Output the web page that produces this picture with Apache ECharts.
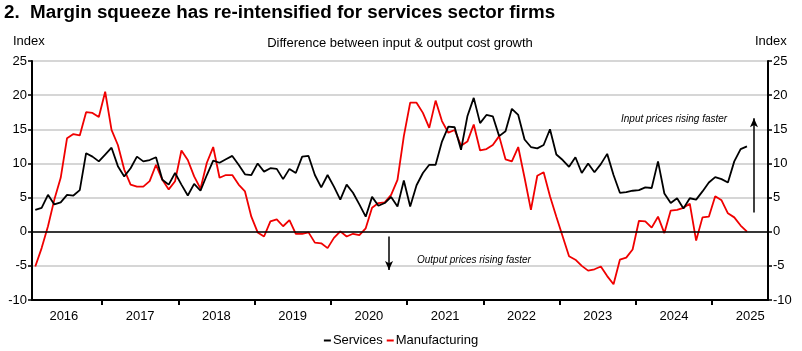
<!DOCTYPE html>
<html>
<head>
<meta charset="utf-8">
<script src="https://cdn.jsdelivr.net/npm/echarts@6/dist/echarts.min.js"></script>
<style>
  html, body { margin: 0; padding: 0; background: #fff; }
  #main { width: 802px; height: 351px; }
</style>
</head>
<body>
<div id="main"></div>
<script>
// monthly readings, Feb 2016 .. Jun 2025
const startYear = 2016;
const startMonth = 1; // 0 = Jan
const services = [
  3.2, 3.5, 5.4, 4.0, 4.3, 5.4, 5.3, 6.1, 11.5, 11.0, 10.3,
  11.3, 12.3, 9.6, 8.1, 9.3, 11.0, 10.3, 10.5, 10.9, 7.6, 6.9, 8.6,
  6.9, 5.3, 7.0, 6.0, 8.3, 10.4, 10.1, 10.6, 11.1, 9.8, 8.4, 8.3,
  10.0, 8.8, 9.3, 9.2, 7.7, 9.2, 8.6, 11.0, 11.1, 8.3, 6.5, 8.3,
  6.6, 4.7, 6.9, 5.7, 4.0, 2.2, 5.1, 3.8, 4.2, 5.1, 3.7, 7.5,
  3.7, 6.8, 8.6, 9.8, 9.8, 13.2, 15.4, 15.3, 12.0, 16.9, 19.6, 15.9,
  17.1, 16.9, 14.0, 14.7, 18.0, 17.1, 13.5, 12.4, 12.2, 12.7, 15.0, 11.3,
  10.5, 9.5, 10.9, 8.6, 10.0, 8.7, 9.9, 11.4, 8.3, 5.7, 5.8, 6.0,
  6.1, 6.5, 6.4, 10.3, 5.6, 4.2, 4.9, 3.4, 4.9, 4.7, 5.9, 7.2,
  8.0, 7.7, 7.2, 10.3, 12.1, 12.5
];
const manufacturing = [
  -5.1, -2.4, 0.8, 4.7, 7.9, 13.7, 14.3, 14.1, 17.5, 17.4, 16.8,
  20.5, 14.9, 12.7, 9.1, 6.9, 6.6, 6.6, 7.4, 9.8, 7.6, 6.2, 7.4,
  11.9, 10.5, 8.1, 6.3, 10.1, 12.4, 7.9, 8.3, 8.3, 6.9, 5.9, 2.2,
  -0.1, -0.7, 1.5, 1.8, 0.8, 1.7, -0.3, -0.3, -0.1, -1.6, -1.7, -2.4,
  -0.9, 0.05, -0.7, -0.3, -0.5, 0.5, 3.5, 4.2, 4.3, 5.4, 7.6, 14.0,
  18.9, 18.9, 17.4, 15.2, 19.2, 16.2, 14.5, 14.9, 12.6, 13.2, 15.7, 11.9,
  12.1, 12.7, 14.0, 10.6, 10.3, 12.4, 7.9, 3.2, 8.2, 8.7, 5.2, 2.2,
  -0.7, -3.6, -4.1, -5.0, -5.7, -5.5, -5.1, -6.5, -7.7, -4.1, -3.8, -2.6,
  1.6, 1.5, 0.6, 2.2, -0.2, 3.1, 3.2, 3.5, 4.1, -1.3, 2.1, 2.2,
  5.2, 4.6, 2.7, 2.1, 0.9, 0.0
];
const years = [2016, 2017, 2018, 2019, 2020, 2021, 2022, 2023, 2024, 2025];
const yTicks = { min: -10, max: 25, step: 5 };

// x as decimal year, point at mid-month
const toX = i => startYear + (startMonth + i + 0.5) / 12;
const servicesData = services.map((v, i) => [toX(i), v]);
const manufacturingData = manufacturing.map((v, i) => [toX(i), v]);

const font = 'Liberation Sans, Arial, sans-serif';
const chart = echarts.init(document.getElementById('main'));

const yAxisBase = {
  type: 'value',
  min: yTicks.min,
  max: yTicks.max,
  interval: yTicks.step,
  axisLine: { show: true, lineStyle: { color: '#000', width: 2 } },
  axisTick: { show: true, length: 4, lineStyle: { color: '#000', width: 1.5 } },
  axisLabel: { color: '#000', fontSize: 13, fontFamily: font, margin: 5 }
};

chart.setOption({
  animation: false,
  backgroundColor: '#fff',
  grid: { left: 32, right: 34, top: 61, bottom: 51 },
  xAxis: {
    type: 'value',
    min: 2016.082,
    max: 2025.734,
    splitLine: { show: false },
    axisLine: { show: true, onZero: false, lineStyle: { color: '#000', width: 2 } },
    axisTick: {
      show: true, length: 5, customValues: years.slice(1),
      lineStyle: { color: '#000', width: 2 }
    },
    axisLabel: {
      color: '#000', fontSize: 13, fontFamily: font, margin: 10,
      customValues: years.map(y => y + 0.5),
      formatter: v => String(Math.floor(v))
    }
  },
  yAxis: [
    Object.assign({}, yAxisBase, {
      position: 'left',
      splitLine: { show: true, lineStyle: { color: '#c8c8c8', width: 1.5 } }
    }),
    Object.assign({}, yAxisBase, {
      position: 'right',
      splitLine: { show: false }
    })
  ],
  legend: {
    bottom: 4,
    left: 'center',
    icon: 'rect',
    itemWidth: 7,
    itemHeight: 2,
    itemGap: 4,
    padding: 0,
    textStyle: { color: '#000', fontSize: 13, fontFamily: font, padding: [0, 0, 0, -3] },
    data: ['Services', 'Manufacturing']
  },
  series: [
    {
      name: 'Services',
      type: 'line',
      data: servicesData,
      showSymbol: false,
      z: 3,
      lineStyle: { color: '#000', width: 1.8 },
      itemStyle: { color: '#000' },
      markLine: {
        silent: true,
        symbol: 'none',
        label: { show: false },
        lineStyle: { color: '#000', width: 1.5, type: 'solid' },
        data: [{ yAxis: 0 }]
      }
    },
    {
      name: 'Manufacturing',
      type: 'line',
      data: manufacturingData,
      showSymbol: false,
      z: 2,
      lineStyle: { color: '#f00000', width: 1.8 },
      itemStyle: { color: '#f00000' },
      markLine: {
        silent: true,
        symbol: ['none', 'arrow'],
        symbolSize: [6, 9],
        label: { show: false },
        lineStyle: { color: '#000', width: 1.5, type: 'solid' },
        data: [
          [{ coord: [2025.55, 2.8] }, { coord: [2025.55, 16.6] }],
          [{ coord: [2020.764, -0.7] }, { coord: [2020.764, -5.6] }]
        ]
      }
    }
  ],
  graphic: [
    { type: 'text', left: 4, top: 3,
      style: { text: '2.  Margin squeeze has re-intensified for services sector firms',
        font: 'bold 18.8px ' + font, fill: '#000' } },
    { type: 'text', left: 13, top: 35,
      style: { text: 'Index', font: '13px ' + font, fill: '#000' } },
    { type: 'text', left: 755, top: 35,
      style: { text: 'Index', font: '13px ' + font, fill: '#000' } },
    { type: 'text', x: 400, y: 43,
      style: { text: 'Difference between input & output cost growth', font: '13px ' + font,
        fill: '#000', align: 'center', verticalAlign: 'middle' } },
    { type: 'text', x: 621, y: 119,
      style: { text: 'Input prices rising faster', font: 'italic 10px ' + font,
        fill: '#000', verticalAlign: 'middle' } },
    { type: 'text', x: 417, y: 260,
      style: { text: 'Output prices rising faster', font: 'italic 10px ' + font,
        fill: '#000', verticalAlign: 'middle' } }
  ]
});
</script>
</body>
</html>
